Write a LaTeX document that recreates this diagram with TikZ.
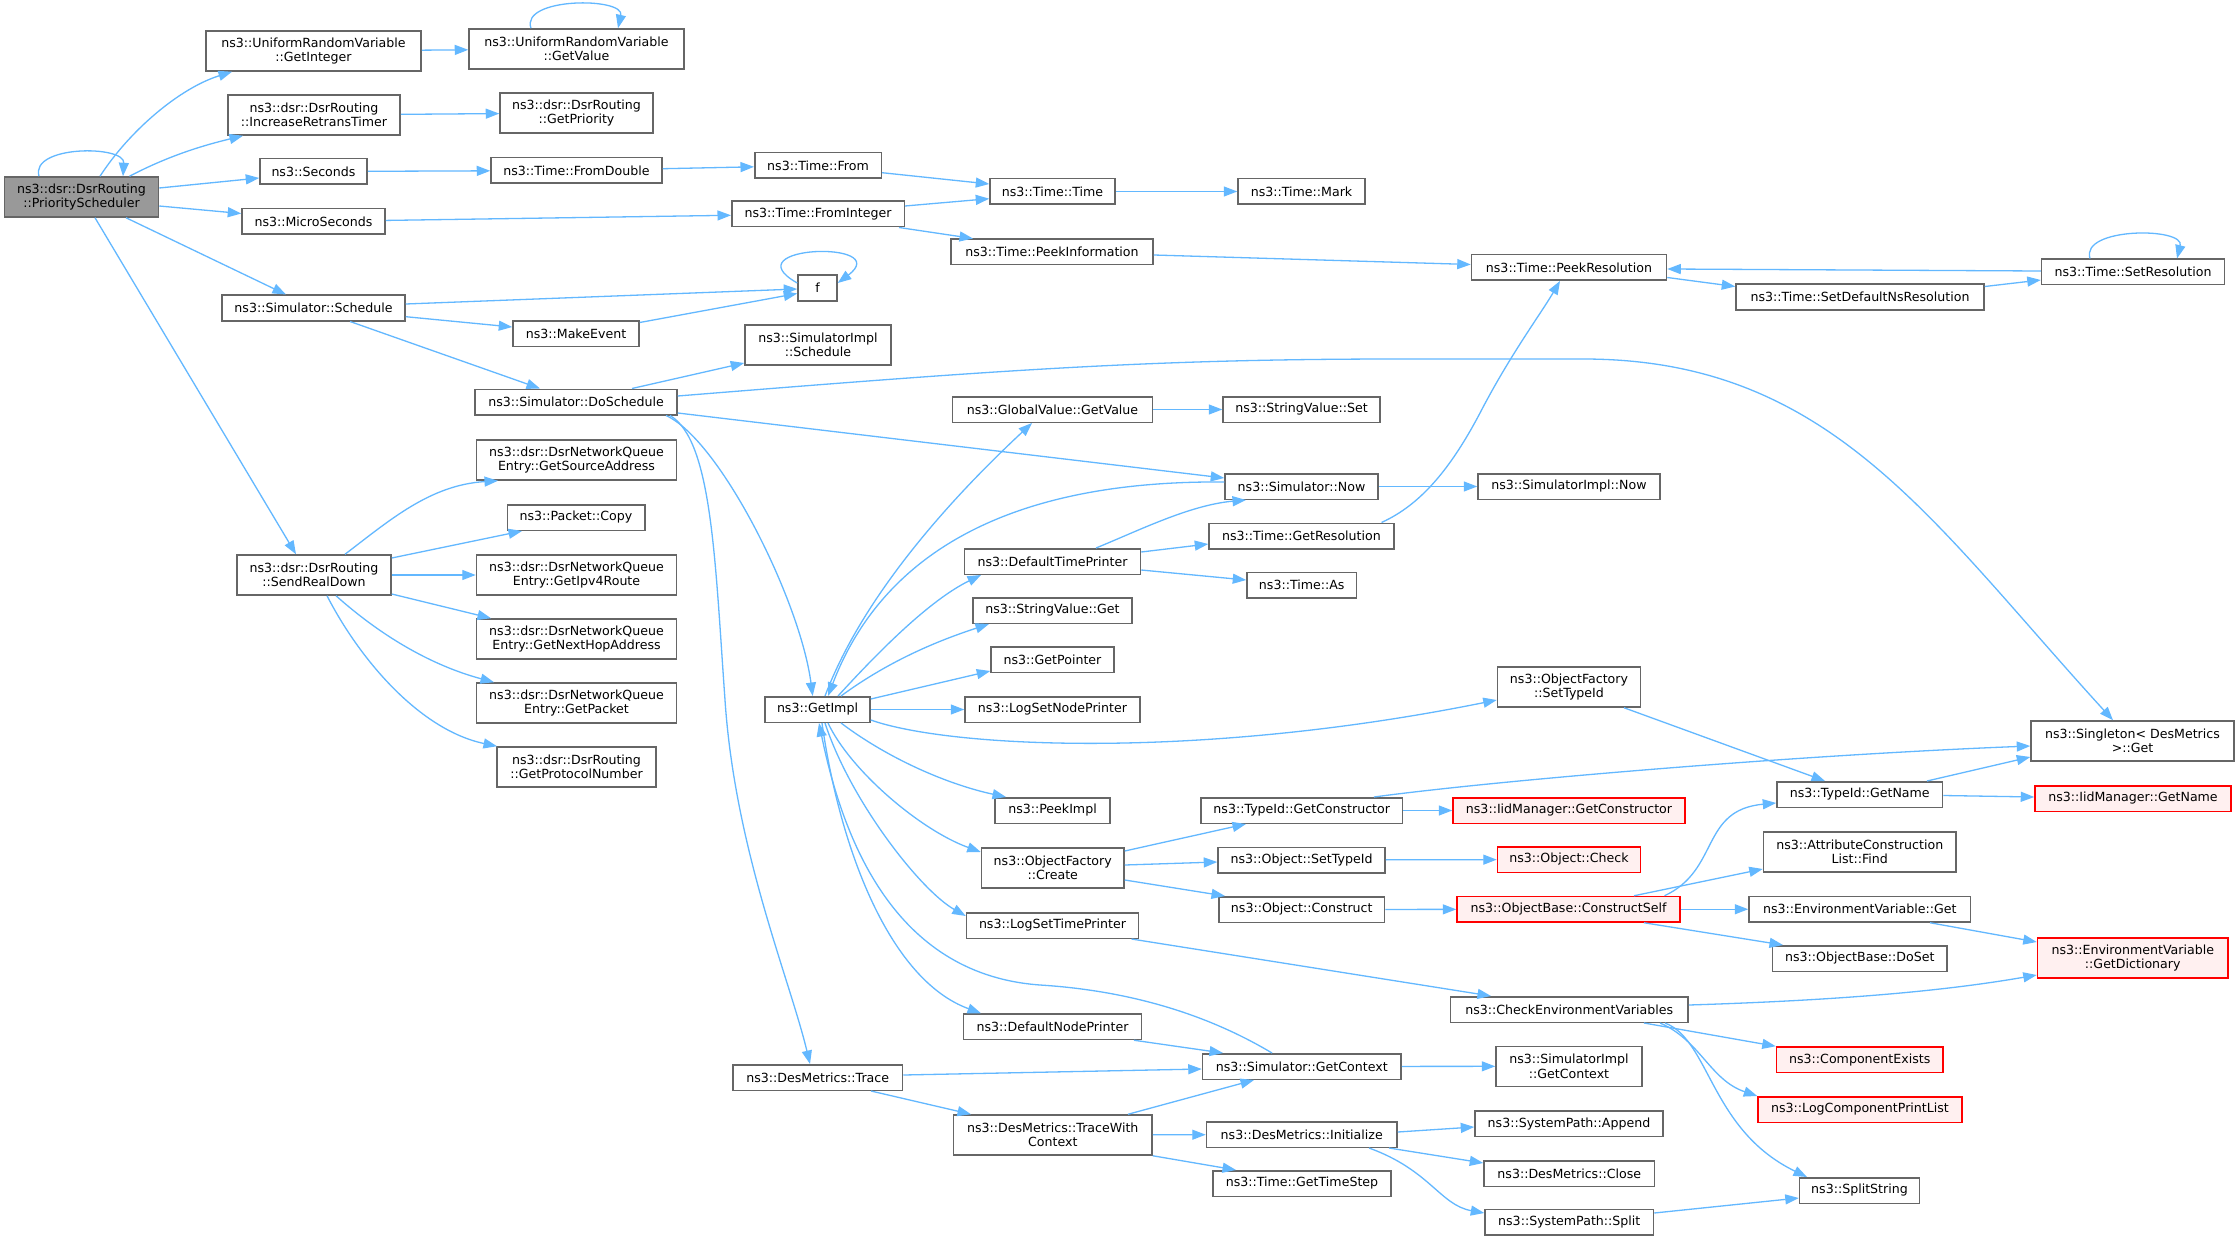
\documentclass[tikz,border=0pt]{standalone}
\usepackage{fontspec}
\setmainfont{DejaVu Sans}
\usetikzlibrary{arrows.meta}
\definecolor{edgec}{HTML}{63B8FF}
\definecolor{bordc}{HTML}{666666}
\definecolor{rootc}{HTML}{999999}
\definecolor{redfill}{HTML}{FFF0F0}
\definecolor{redb}{HTML}{FF0000}
\tikzset{
  nd/.style={draw=bordc, line width=1.5pt, fill=white, inner sep=0pt, minimum height=25.5pt, align=center},
  two/.style={minimum height=40pt},
  rd/.style={nd, draw=redb, fill=redfill},
  conn/.style={draw=edgec, line width=1.3pt, -{Triangle[length=13.5pt,width=10pt]}},
}
\begin{document}
\begin{tikzpicture}[x=1pt,y=-1pt,font=\fontsize{12.6}{14.5}\selectfont]
\fill[white] (0,0) rectangle (2240,1241);
\useasboundingbox (0,0) rectangle (2240,1241);
% nodes
\node[nd,two,fill=rootc,minimum width=154pt] (ps) at (81.5,197) {ns3::dsr::DsrRouting\\::PriorityScheduler};
\node[nd,two,minimum width=215pt] (gint) at (313.5,51) {ns3::UniformRandomVariable\\::GetInteger};
\node[nd,two,minimum width=215pt] (gval) at (576.5,49) {ns3::UniformRandomVariable\\::GetValue};
\node[nd,two,minimum width=172pt] (irt) at (314,115) {ns3::dsr::DsrRouting\\::IncreaseRetransTimer};
\node[nd,two,minimum width=153pt] (gpri) at (576.5,113) {ns3::dsr::DsrRouting\\::GetPriority};
\node[nd,minimum width=107pt] (sec) at (313.5,171.5) {ns3::Seconds};
\node[nd,minimum width=171pt] (fdbl) at (576.5,170.5) {ns3::Time::FromDouble};
\node[nd,minimum width=143pt] (micro) at (313.5,221.5) {ns3::MicroSeconds};
\node[nd,minimum width=183pt] (sched) at (313.5,308) {ns3::Simulator::Schedule};
\node[nd,minimum width=126pt] (mkev) at (576,333.5) {ns3::MakeEvent};
\node[nd,minimum width=202pt] (dosch) at (576,402) {ns3::Simulator::DoSchedule};
\node[nd,two,minimum width=200pt] (gsrc) at (576.5,460) {ns3::dsr::DsrNetworkQueue\\Entry::GetSourceAddress};
\node[nd,minimum width=137.5pt] (pcopy) at (576,517.5) {ns3::Packet::Copy};
\node[nd,two,minimum width=200pt] (gipv4) at (576.5,575) {ns3::dsr::DsrNetworkQueue\\Entry::GetIpv4Route};
\node[nd,two,minimum width=200pt] (gnh) at (576.5,639) {ns3::dsr::DsrNetworkQueue\\Entry::GetNextHopAddress};
\node[nd,two,minimum width=200pt] (gpkt) at (576.5,703) {ns3::dsr::DsrNetworkQueue\\Entry::GetPacket};
\node[nd,two,minimum width=159pt] (gpn) at (576.5,767) {ns3::dsr::DsrRouting\\::GetProtocolNumber};
\node[nd,two,minimum width=154pt] (srd) at (314,575) {ns3::dsr::DsrRouting\\::SendRealDown};
\node[nd,minimum width=126.5pt] (tfrom) at (818,165.5) {ns3::Time::From};
\node[nd,minimum width=125pt] (ttime) at (1052.5,191.5) {ns3::Time::Time};
\node[nd,minimum width=127pt] (tmark) at (1301.5,191.5) {ns3::Time::Mark};
\node[nd,minimum width=172.5pt] (fint) at (818,214) {ns3::Time::FromInteger};
\node[nd,minimum width=202pt] (tpi) at (1052,252) {ns3::Time::PeekInformation};
\node[nd,minimum width=39pt] (f) at (817.5,288) {f};
\node[nd,two,minimum width=146pt] (sisch) at (818,345) {ns3::SimulatorImpl\\::Schedule};
\node[nd,minimum width=200pt] (gvgv) at (1052.5,409.5) {ns3::GlobalValue::GetValue};
\node[nd,minimum width=157pt] (svset) at (1301.5,409.5) {ns3::StringValue::Set};
\node[nd,minimum width=195pt] (tpr) at (1569,267.5) {ns3::Time::PeekResolution};
\node[nd,minimum width=248pt] (tsdns) at (1860,297) {ns3::Time::SetDefaultNsResolution};
\node[nd,minimum width=183pt] (tsr) at (2133,272) {ns3::Time::SetResolution};
\node[nd,minimum width=182pt] (sinow) at (1569,486.5) {ns3::SimulatorImpl::Now};
\node[nd,minimum width=153pt] (snow) at (1301.5,486.5) {ns3::Simulator::Now};
\node[nd,minimum width=185pt] (tgr) at (1301.5,536) {ns3::Time::GetResolution};
\node[nd,minimum width=176pt] (dtp) at (1052.5,561.5) {ns3::DefaultTimePrinter};
\node[nd,minimum width=109.5pt] (tas) at (1301.75,585) {ns3::Time::As};
\node[nd,minimum width=159pt] (svget) at (1052.5,610.5) {ns3::StringValue::Get};
\node[nd,minimum width=123pt] (gptr) at (1052.5,659.5) {ns3::GetPointer};
\node[nd,minimum width=105pt] (gimpl) at (817.5,709.5) {ns3::GetImpl};
\node[nd,minimum width=175pt] (lsnp) at (1052.5,709.5) {ns3::LogSetNodePrinter};
\node[nd,minimum width=115pt] (pimpl) at (1052.5,810.5) {ns3::PeekImpl};
\node[nd,minimum width=201.5pt] (tgc) at (1301.75,810.5) {ns3::TypeId::GetConstructor};
\node[nd,two,minimum width=143pt] (ofst) at (1569,687) {ns3::ObjectFactory\\::SetTypeId};
\node[nd,two,minimum width=203pt] (sing) at (2132.5,741) {ns3::Singleton\textless{} DesMetrics\\\textgreater::Get};
\node[nd,minimum width=165.5pt] (tgn) at (1859.75,794.5) {ns3::TypeId::GetName};
\node[rd,minimum width=196pt] (iidgn) at (2133,798.5) {ns3::IidManager::GetName};
\node[rd,minimum width=232pt] (iidgc) at (1569,810.5) {ns3::IidManager::GetConstructor};
\node[rd,minimum width=143pt] (ocheck) at (1569,859.5) {ns3::Object::Check};
\node[nd,two,minimum width=192.5pt] (acl) at (1859.75,852) {ns3::AttributeConstruction\\List::Find};
\node[rd,minimum width=223pt] (obcs) at (1568.5,909.25) {ns3::ObjectBase::ConstructSelf};
\node[nd,minimum width=221.5pt] (evget) at (1859.75,909.25) {ns3::EnvironmentVariable::Get};
\node[nd,minimum width=174.5pt] (obds) at (1859.75,958.5) {ns3::ObjectBase::DoSet};
\node[rd,two,minimum width=190.5pt] (evgd) at (2132.75,958) {ns3::EnvironmentVariable\\::GetDictionary};
\node[nd,minimum width=237.5pt] (cev) at (1569.25,1009.5) {ns3::CheckEnvironmentVariables};
\node[nd,two,minimum width=142.5pt] (ofc) at (1052.75,868) {ns3::ObjectFactory\\::Create};
\node[nd,minimum width=167pt] (ostid) at (1301.5,860) {ns3::Object::SetTypeId};
\node[nd,minimum width=165.5pt] (ocon) at (1301.75,909.5) {ns3::Object::Construct};
\node[nd,minimum width=172pt] (lstp) at (1052.5,925.5) {ns3::LogSetTimePrinter};
\node[nd,minimum width=178pt] (dnp) at (1052.5,1026.75) {ns3::DefaultNodePrinter};
\node[nd,minimum width=198.5pt] (sgc) at (1301.75,1066.5) {ns3::Simulator::GetContext};
\node[nd,minimum width=169.5pt] (dmt) at (817.75,1077.5) {ns3::DesMetrics::Trace};
\node[nd,two,minimum width=198.5pt] (dmtwc) at (1052.75,1135) {ns3::DesMetrics::TraceWith\\Context};
\node[nd,minimum width=190.5pt] (dmi) at (1301.75,1134.5) {ns3::DesMetrics::Initialize};
\node[nd,minimum width=178pt] (tgts) at (1302,1183.5) {ns3::Time::GetTimeStep};
\node[nd,two,minimum width=146pt] (sigc) at (1569,1066.25) {ns3::SimulatorImpl\\::GetContext};
\node[nd,minimum width=188pt] (spa) at (1569,1123.75) {ns3::SystemPath::Append};
\node[nd,minimum width=170.5pt] (dmc) at (1569.25,1173.5) {ns3::DesMetrics::Close};
\node[nd,minimum width=168.5pt] (sps) at (1569.25,1222.25) {ns3::SystemPath::Split};
\node[rd,minimum width=166.5pt] (cex) at (1859.75,1059.75) {ns3::ComponentExists};
\node[rd,minimum width=204pt] (lcpl) at (1860,1109.5) {ns3::LogComponentPrintList};
\node[nd,minimum width=120pt] (ss) at (1859.5,1190.5) {ns3::SplitString};
% self loops
\draw[conn] (39,0 |- ps.north) .. controls (30,145) and (125,145) .. (123,0 |- ps.north);
\draw[conn] (531,0 |- gval.north) .. controls (520,-3) and (625,-3) .. (618,0 |- gval.north);
\draw[conn] (f.west |- 0,283) .. controls (730,245) and (895,240) .. (f.east |- 0,283);
\draw[conn] (2090,0 |- tsr.north) .. controls (2080,227) and (2185,227) .. (2177,0 |- tsr.north);
% edges from root
\draw[conn] (100,0 |- ps.north) .. controls (130,130) and (180,88) .. (232,0 |- gint.south);
\draw[conn] (129.5,0 |- ps.north) .. controls (170,155) and (205,145) .. (243,0 |- irt.south);
\draw[conn] (ps.east |- 0,188) -- (sec.west |- 0,178);
\draw[conn] (ps.east |- 0,206) -- (micro.west |- 0,213.5);
\draw[conn] (126,0 |- ps.south) -- (286,0 |- sched.north);
\draw[conn] (95,0 |- ps.south) -- (296,0 |- srd.north);
% first level
\draw[conn] (gint) -- (gval);
\draw[conn] (irt) -- (gpri);
\draw[conn] (sec) -- (fdbl);
\draw[conn] (fdbl) -- (tfrom);
\draw[conn] (micro) -- (fint);
\draw[conn] (tfrom.east |- 0,172.7) -- (ttime.west |- 0,184);
\draw[conn] (fint.east |- 0,206) -- (ttime.west |- 0,198.7);
\draw[conn] (899,0 |- fint.south) -- (973,0 |- tpi.north);
\draw[conn] (ttime) -- (tmark);
\draw[conn] (tpi.east |- 0,255) -- (tpr.west |- 0,264.5);
\draw[conn] (tpr.east |- 0,277.5) -- (tsdns.west |- 0,286.5);
\draw[conn] (tsdns.east |- 0,286.5) -- (tsr.west |- 0,280);
\draw[conn] (tsr.west |- 0,271) -- (tpr.east |- 0,269);
\draw[conn] (sched.east |- 0,304) -- (f.west |- 0,289);
\draw[conn] (sched.east |- 0,316.7) -- (mkev.west |- 0,327);
\draw[conn] (mkev.east |- 0,322.5) -- (f.west |- 0,293.5);
\draw[conn] (350,0 |- sched.south) -- (540,0 |- dosch.north);
% DoSchedule
\draw[conn] (632,0 |- dosch.north) -- (sisch.west |- 0,363);
\draw[conn] (dosch.east |- 0,396) .. controls (1000,370) and (1150,359) .. (1400,359) -- (1583,359) .. controls (1830,359) and (1930,520) .. (2113,0 |- sing.north);
\draw[conn] (dosch.east |- 0,413) -- (snow.west |- 0,478);
\draw[conn] (666,0 |- dosch.south) .. controls (720,440) and (800,600) .. (812.7,0 |- gimpl.north);
\draw[conn] (670,0 |- dosch.south) .. controls (712,440) and (715,560) .. (725,700) .. controls (735,850) and (790,980) .. (810,0 |- dmt.north);
% SendRealDown
\draw[conn] (345,0 |- srd.north) .. controls (390,520) and (430,485) .. (498,0 |- gsrc.south);
\draw[conn] (srd.east |- 0,558) -- (522,0 |- pcopy.south);
\draw[conn] (srd) -- (gipv4);
\draw[conn] (srd.east |- 0,594) -- (491,0 |- gnh.north);
\draw[conn] (336,0 |- srd.south) .. controls (380,635) and (430,665) .. (494,0 |- gpkt.north);
\draw[conn] (327,0 |- srd.south) .. controls (360,660) and (420,730) .. (497,0 |- gpn.north);
% GetImpl related
\draw[conn] (gvgv) -- (svset);
\draw[conn] (snow) -- (sinow);
\draw[conn] (1381.5,0 |- tgr.north) .. controls (1420,505) and (1450,470) .. (1480,413) .. controls (1510,355) and (1540,315) .. (1560,0 |- tpr.south);
\draw[conn] (1096,0 |- dtp.north) .. controls (1140,530) and (1190,505) .. (1246,0 |- snow.south);
\draw[conn] (dtp.east |- 0,552) -- (tgr.west |- 0,544);
\draw[conn] (dtp.east |- 0,570) -- (tas.west |- 0,580);
\draw[conn] (825,0 |- gimpl.north) .. controls (865,590) and (960,490) .. (1032,0 |- gvgv.south);
\draw[conn] (snow.west |- 0,482) .. controls (1000,480) and (880,560) .. (828,0 |- gimpl.north);
\draw[conn] (838,0 |- gimpl.north) .. controls (880,650) and (930,600) .. (981,0 |- dtp.south);
\draw[conn] (841,0 |- gimpl.north) .. controls (890,660) and (940,640) .. (989,0 |- svget.south);
\draw[conn] (gimpl.east |- 0,699) -- (gptr.west |- 0,671);
\draw[conn] (gimpl) -- (lsnp);
\draw[conn] (gimpl.east |- 0,720) .. controls (950,748) and (1200,760) .. (ofst.west |- 0,700);
\draw[conn] (841,0 |- gimpl.south) .. controls (890,760) and (950,785) .. (1006,0 |- pimpl.north);
\draw[conn] (828,0 |- gimpl.south) .. controls (850,770) and (920,830) .. (ofc.west |- 0,852);
\draw[conn] (825,0 |- gimpl.south) .. controls (850,800) and (920,890) .. (lstp.west |- 0,916);
\draw[conn] (822,0 |- gimpl.south) .. controls (840,850) and (890,980) .. (981,0 |- dnp.north);
\draw[conn] (1272,0 |- sgc.north) .. controls (1200,1010) and (1120,990) .. (1040,985) .. controls (900,975) and (845,850) .. (819,0 |- gimpl.south);
% ObjectFactory etc.
\draw[conn] (1624,0 |- ofst.south) -- (1825,0 |- tgn.north);
\draw[conn] (1374,0 |- tgc.north) .. controls (1500,780) and (1800,755) .. (sing.west |- 0,746);
\draw[conn] (tgc) -- (iidgc);
\draw[conn] (1927,0 |- tgn.north) -- (sing.west |- 0,757);
\draw[conn] (tgn.east |- 0,795.5) -- (iidgn.west |- 0,797);
\draw[conn] (ofc.east |- 0,851) -- (1246,0 |- tgc.south);
\draw[conn] (ofc.east |- 0,865) -- (ostid.west |- 0,862);
\draw[conn] (ofc.east |- 0,880) -- (1225,0 |- ocon.north);
\draw[conn] (ostid) -- (ocheck);
\draw[conn] (ocon) -- (obcs);
\draw[conn] (1664.5,0 |- obcs.north) .. controls (1720,870) and (1700,810) .. (tgn.west |- 0,803);
\draw[conn] (1634,0 |- obcs.north) -- (acl.west |- 0,869);
\draw[conn] (obcs) -- (evget);
\draw[conn] (1644,0 |- obcs.south) -- (1783,0 |- obds.north);
\draw[conn] (1930,0 |- evget.south) -- (evgd.west |- 0,942);
\draw[conn] (cev.east |- 0,1005) .. controls (1850,1000) and (1950,990) .. (evgd.west |- 0,975);
\draw[conn] (1131.5,0 |- lstp.south) -- (1491,0 |- cev.north);
\draw[conn] (1644,0 |- cev.south) -- (cex.north west);
\draw[conn] (1660,0 |- cev.south) .. controls (1700,1040) and (1710,1080) .. (lcpl.north west);
\draw[conn] (1665,0 |- cev.south) .. controls (1710,1040) and (1710,1130) .. (1807,0 |- ss.north);
% DesMetrics
\draw[conn] (1134,0 |- dnp.south) -- (1223,0 |- sgc.north);
\draw[conn] (dmt.east |- 0,1075) -- (sgc.west |- 0,1069);
\draw[conn] (871,0 |- dmt.south) -- (971,0 |- dmtwc.north);
\draw[conn] (1128,0 |- dmtwc.north) -- (1254,0 |- sgc.south);
\draw[conn] (dmtwc) -- (dmi);
\draw[conn] (dmtwc.south east) -- (1236,0 |- tgts.north);
\draw[conn] (sgc) -- (sigc);
\draw[conn] (dmi.east |- 0,1132) -- (spa.west |- 0,1127);
\draw[conn] (1389,0 |- dmi.south) -- (dmc.west |- 0,1163);
\draw[conn] (1369,0 |- dmi.south) .. controls (1430,1170) and (1440,1205) .. (sps.west |- 0,1213);
\draw[conn] (sps.east |- 0,1213) -- (ss.west |- 0,1198);
\end{tikzpicture}
\end{document}
